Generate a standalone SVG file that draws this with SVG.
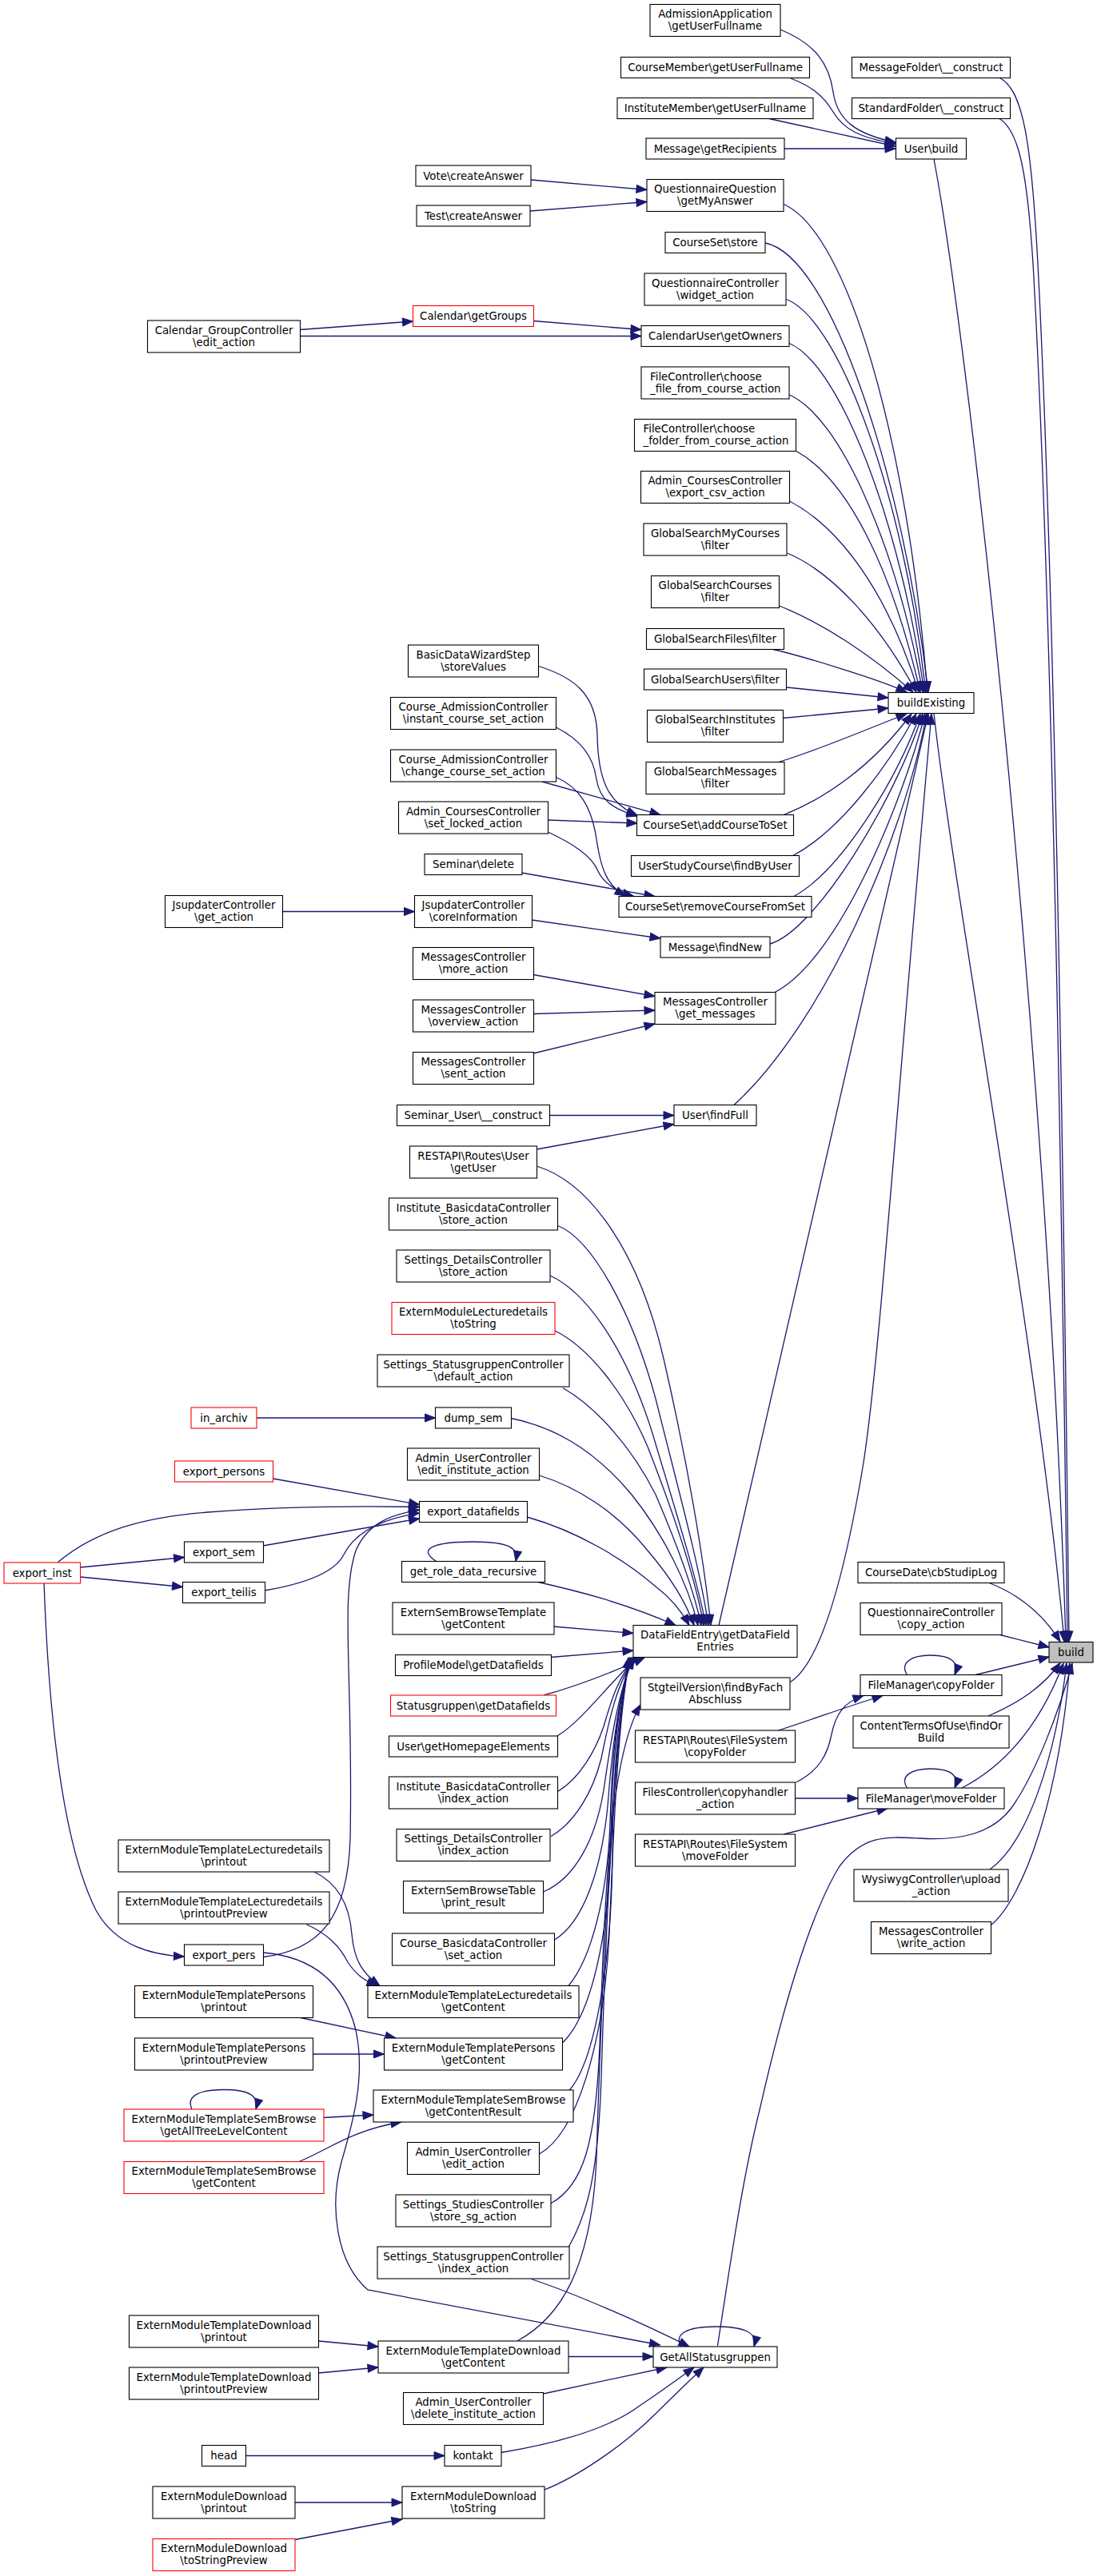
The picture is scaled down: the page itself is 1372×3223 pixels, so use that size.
<svg xmlns="http://www.w3.org/2000/svg" width="1372" height="3223" viewBox="0 0 1372 3223">
<style>
rect{fill:#fff;stroke:#000;stroke-width:1.1}
.r rect{stroke:#f00}
.root rect{fill:#bfbfbf}
text{font-family:"DejaVu Sans","Liberation Sans",sans-serif;font-size:13.33px;fill:#000;text-anchor:middle}
text.l{text-anchor:start}
#edges path{fill:none;stroke:#191970;stroke-width:1.3;marker-end:url(#a)}
</style>
<defs>
<marker id="a" markerWidth="13" markerHeight="10" refX="13" refY="5" orient="auto" markerUnits="userSpaceOnUse" overflow="visible"><path d="M0,0 L13,5 L0,10 z" fill="#191970" stroke="#191970" stroke-width="1"/></marker>
</defs>
<rect x="0" y="0" width="1372" height="3223" style="fill:#fff;stroke:none"/>
<g id="edges">
<path d="M976,37 C1020,55 1037,80 1042,115 C1047,150 1070,168 1120,178"/>
<path d="M989,98 C1015,108 1030,120 1042,140 C1055,162 1075,172 1120,180"/>
<path d="M962,148.5 L1120,183"/>
<path d="M981,186 L1120,186"/>
<path d="M1168,199 C1210,420 1310,1300 1333,2054"/>
<path d="M1249,97 C1280,110 1290,180 1298,330 C1310,560 1325,1000 1337,2054"/>
<path d="M1249,148 C1275,162 1285,220 1292,330 C1305,560 1322,1000 1335,2054"/>
<path d="M1168,892 C1190,1100 1300,1700 1331,2054"/>
<path d="M1236,1980 C1275,1995 1305,2020 1326,2054"/>
<path d="M1251,2045.5 L1312,2061"/>
<path d="M1220,2095.5 L1312,2073"/>
<path d="M1236,2147 C1275,2130 1305,2110 1326,2080.5"/>
<path d="M1203,2237 C1255,2210 1300,2160 1330,2081"/>
<path d="M1238,2339 C1285,2305 1320,2200 1334,2081"/>
<path d="M1239.5,2408.5 C1280,2375 1325,2250 1338,2081"/>
<path d="M897.5,2935 C915,2820 930,2720 950,2640 C975,2530 1010,2400 1050,2335 C1080,2295 1110,2298 1150,2300 C1200,2303 1240,2295 1265,2262 C1295,2220 1325,2140 1341,2081"/>
<path d="M980,255.5 C1060,290 1135,550 1160,866"/>
<path d="M957,304 C1040,320 1130,600 1161,866"/>
<path d="M983.5,374.5 C1050,400 1130,620 1158,866"/>
<path d="M986,429 C1050,455 1125,650 1156,866"/>
<path d="M986,493.5 C1050,520 1120,680 1154,866"/>
<path d="M996,564.5 C1060,600 1115,710 1151,866"/>
<path d="M987.5,627 C1050,660 1110,740 1149,866"/>
<path d="M984.5,692 C1040,715 1100,780 1146,866"/>
<path d="M974.5,758 C1030,780 1090,820 1142,866"/>
<path d="M967,812.5 C1000,820 1100,850 1134,866"/>
<path d="M984,860 L1111,873"/>
<path d="M979,898.5 L1111,886"/>
<path d="M973.5,953.5 C1020,940 1090,910 1134,893"/>
<path d="M980,1019.5 C1030,1000 1090,960 1140,893"/>
<path d="M991,1071 C1050,1040 1110,960 1146,893"/>
<path d="M993,1121.5 C1050,1090 1120,980 1151,893"/>
<path d="M963,1181 C1020,1165 1120,1000 1154,893"/>
<path d="M969,1241.5 C1050,1200 1130,1000 1157,893"/>
<path d="M918,1382.5 C1030,1280 1130,1050 1159,893"/>
<path d="M899,2033.5 L1161,893"/>
<path d="M987.5,2105 C1030,2080 1060,1950 1080,1830 C1100,1700 1120,1400 1165,893"/>
<path d="M664,225 L809,237.5"/>
<path d="M663,264 L809,252.5"/>
<path d="M375,412.5 L516.5,402"/>
<path d="M667,401.5 L802,412.5"/>
<path d="M375,420.5 L802,420.5"/>
<path d="M673.5,833.5 C720,848 746,870 747,920 C748,975 760,1005 797,1020"/>
<path d="M695.5,910 C725,925 742,945 746,975 C750,1000 765,1012 797,1021"/>
<path d="M678,978 L826,1019.5"/>
<path d="M685.5,1026 L797,1030"/>
<path d="M695.5,972.5 C725,985 740,1010 746,1050 C752,1090 760,1108 782,1121"/>
<path d="M684.5,1040.5 C715,1055 740,1070 748,1090 C755,1105 770,1115 792,1121"/>
<path d="M652.5,1092 L819,1121.5"/>
<path d="M353,1140.5 L518.5,1140.5"/>
<path d="M665,1151 L826,1174"/>
<path d="M667,1219.5 L819,1246.5"/>
<path d="M667,1268.5 L819,1264"/>
<path d="M667,1318 L819,1281"/>
<path d="M687,1395.5 L843,1395.5"/>
<path d="M671,1438 L843,1406.5"/>
<path d="M671,1459 C740,1480 800,1570 830,1700 C860,1830 880,1950 889,2033.5"/>
<path d="M697.5,1533.5 C740,1550 790,1640 820,1750 C850,1870 875,1960 886,2033.5"/>
<path d="M688,1596 C730,1615 780,1680 815,1790 C845,1890 870,1970 883,2033.5"/>
<path d="M694,1665 C735,1685 780,1740 810,1810 C845,1900 870,1975 880,2033.5"/>
<path d="M704,1736.5 C745,1760 790,1810 820,1870 C850,1940 868,1990 877,2033.5"/>
<path d="M639,1774.5 C690,1785 740,1810 790,1870 C830,1920 860,1980 873,2033.5"/>
<path d="M674.5,1846 C720,1860 770,1890 810,1940 C840,1975 858,2005 868,2033.5"/>
<path d="M659,1898 C720,1915 780,1950 820,1985 C840,2000 852,2015 862,2033.5"/>
<path d="M671,1979 C720,1990 780,2005 845,2033.5"/>
<path d="M692,2035 L792,2043.5"/>
<path d="M688.5,2073.5 L792,2065"/>
<path d="M680,2121 C720,2110 760,2095 806,2074"/>
<path d="M697,2172 C725,2155 750,2120 796,2074"/>
<path d="M697.5,2241.5 C725,2225 745,2190 755,2160 C765,2125 775,2095 795,2074"/>
<path d="M689,2297.5 C720,2280 742,2240 752,2200 C762,2150 772,2105 794,2074"/>
<path d="M679.5,2367 C720,2350 745,2300 755,2240 C765,2170 775,2110 793,2074"/>
<path d="M693,2427.5 C730,2405 752,2340 760,2260 C766,2180 775,2110 792,2074"/>
<path d="M711,2484.5 C740,2450 760,2370 763,2280 C766,2180 775,2110 791,2074"/>
<path d="M704,2555.5 C740,2520 762,2420 764,2300 C766,2190 775,2115 790,2074"/>
<path d="M711,2616.5 C745,2580 765,2450 766,2320 C767,2200 776,2120 789,2074"/>
<path d="M674.5,2695 C720,2670 755,2560 762,2420 C768,2270 774,2140 788,2074"/>
<path d="M711,2811.5 C735,2770 748,2720 752,2600 C758,2400 768,2180 787,2074"/>
<path d="M647,2929 C700,2900 740,2840 746,2700 C752,2500 765,2200 786,2074"/>
<path d="M688.5,2757 C730,2735 745,2680 750,2560 C756,2380 762,2200 801,2133"/>
<path d="M341.5,1850 L524.5,1882.5"/>
<path d="M72.5,1954.5 C120,1915 180,1898 260,1892 C350,1885 450,1884 524.5,1885.5"/>
<path d="M329,1934 L524.5,1900"/>
<path d="M331,1990 C390,1980 420,1965 430,1945 C445,1915 480,1900 524.5,1893"/>
<path d="M329,2448.5 C400,2440 435,2400 438,2300 C442,2100 425,2000 445,1940 C460,1905 490,1895 524.5,1889"/>
<path d="M100.5,1961 L230.5,1948.5"/>
<path d="M100.5,1973 L228.5,1985.5"/>
<path d="M55,1980 C60,2120 75,2300 120,2390 C145,2435 190,2446 230.5,2448"/>
<path d="M320.5,1774 L544.5,1774"/>
<path d="M545.5,1953.5 C520,1937 545,1929 592,1929 C640,1929 648,1938 645,1953.5"/>
<path d="M393,2342 C420,2355 437,2380 440,2420 C443,2455 455,2470 475,2484.5"/>
<path d="M383,2407.5 C410,2420 425,2435 435,2455 C445,2470 455,2478 472,2484.5"/>
<path d="M376,2524.5 L495,2550"/>
<path d="M391.5,2570 L480.5,2570"/>
<path d="M404.5,2649.5 L467,2646"/>
<path d="M374,2704.5 C410,2690 440,2665 502,2655"/>
<path d="M240,2639 C232,2622 250,2614.5 280,2614.5 C310,2614.5 325,2622 320,2639"/>
<path d="M329,2443 C390,2448 430,2480 445,2540 C458,2600 440,2660 427,2705 C412,2760 420,2830 460,2865 L825.5,2934"/>
<path d="M664.5,2851.5 C720,2870 800,2905 862,2936"/>
<path d="M711,2948.5 L817,2948.5"/>
<path d="M679.5,2995 L834,2962"/>
<path d="M627,3068.5 C690,3058 760,3040 800,3010 C830,2990 850,2975 868,2962"/>
<path d="M681,3115 C720,3100 780,3060 820,3020 C850,2990 866,2975 880,2962"/>
<path d="M852,2936 C842,2920 860,2911 895,2911 C930,2911 948,2918 943,2936"/>
<path d="M307,3072.5 L556,3072.5"/>
<path d="M398.5,2929 L473,2936"/>
<path d="M398.5,2969 L473,2962"/>
<path d="M369,3131 L503,3131"/>
<path d="M369,3177.5 L503,3152"/>
<path d="M1134.5,2095.5 C1125,2080 1140,2071 1164,2071 C1190,2071 1200,2080 1194,2095.5"/>
<path d="M973.5,2165 C1020,2150 1060,2135 1104,2121.5"/>
<path d="M995.5,2230 C1025,2215 1035,2195 1040,2170 C1045,2145 1055,2130 1080,2121.5"/>
<path d="M994.5,2250 L1073,2250"/>
<path d="M980,2295 L1110,2262.5"/>
<path d="M1134.5,2237 C1125,2222 1140,2213 1164,2213 C1190,2213 1200,2222 1194,2237"/>
</g>
<g id="n_build" class="root"><rect x="1312" y="2054.5" width="55" height="25.5"/><text x="1339.5" y="2071.5">build</text></g>
<g id="n_userbuild"><rect x="1120.5" y="173" width="88" height="26"/><text x="1164.5" y="190.5">User\build</text></g>
<g id="n_msgfolder"><rect x="1065.5" y="71.5" width="198" height="26"/><text x="1164.5" y="89">MessageFolder\__construct</text></g>
<g id="n_stdfolder"><rect x="1065.5" y="122.5" width="198" height="26"/><text x="1164.5" y="140">StandardFolder\__construct</text></g>
<g id="n_buildexisting"><rect x="1111" y="866.5" width="107" height="26"/><text x="1164.5" y="884">buildExisting</text></g>
<g id="n_cbstudiplog"><rect x="1073" y="1954.5" width="183" height="26"/><text x="1164.5" y="1972">CourseDate\cbStudipLog</text></g>
<g id="n_copyaction"><rect x="1076" y="2005.5" width="177" height="40"/><text x="1164.5" y="2022">QuestionnaireController<tspan x="1164.5" dy="15">\copy_action</tspan></text></g>
<g id="n_copyfolder"><rect x="1076" y="2095.5" width="177" height="26"/><text x="1164.5" y="2113">FileManager\copyFolder</text></g>
<g id="n_findorbuild"><rect x="1067" y="2147" width="195" height="40"/><text x="1164.5" y="2163.5">ContentTermsOfUse\findOr<tspan x="1164.5" dy="15">Build</tspan></text></g>
<g id="n_movefolder"><rect x="1073" y="2237" width="183" height="26"/><text x="1164.5" y="2254.5">FileManager\moveFolder</text></g>
<g id="n_upload"><rect x="1068" y="2339" width="193" height="40"/><text x="1164.5" y="2355.5">WysiwygController\upload<tspan x="1164.5" dy="15">_action</tspan></text></g>
<g id="n_write"><rect x="1089.5" y="2404.5" width="150" height="40"/><text x="1164.5" y="2421">MessagesController<tspan x="1164.5" dy="15">\write_action</tspan></text></g>
<g id="n_admission"><rect x="813" y="5.5" width="163" height="40"/><text x="894.5" y="22">AdmissionApplication<tspan x="894.5" dy="15">\getUserFullname</tspan></text></g>
<g id="n_coursemember"><rect x="776.5" y="71.5" width="236" height="26"/><text x="894.5" y="89">CourseMember\getUserFullname</text></g>
<g id="n_institutemember"><rect x="772" y="122.5" width="245" height="26"/><text x="894.5" y="140">InstituteMember\getUserFullname</text></g>
<g id="n_getrecipients"><rect x="808" y="173" width="173" height="26"/><text x="894.5" y="190.5">Message\getRecipients</text></g>
<g id="n_getmyanswer"><rect x="809" y="224.5" width="171" height="40"/><text x="894.5" y="241">QuestionnaireQuestion<tspan x="894.5" dy="15">\getMyAnswer</tspan></text></g>
<g id="n_coursesetstore"><rect x="832" y="290.5" width="125" height="26"/><text x="894.5" y="308">CourseSet\store</text></g>
<g id="n_widget"><rect x="806" y="342" width="177" height="40"/><text x="894.5" y="358.5">QuestionnaireController<tspan x="894.5" dy="15">\widget_action</tspan></text></g>
<g id="n_getowners"><rect x="802" y="407.5" width="185" height="26"/><text x="894.5" y="425">CalendarUser\getOwners</text></g>
<g id="n_choosefile"><rect x="802" y="459" width="185" height="40"/><text class="l" x="813" y="475.5">FileController\choose<tspan x="813" dy="15">_file_from_course_action</tspan></text></g>
<g id="n_choosefolder"><rect x="793.5" y="524.5" width="202" height="40"/><text class="l" x="804.5" y="541">FileController\choose<tspan x="804.5" dy="15">_folder_from_course_action</tspan></text></g>
<g id="n_exportcsv"><rect x="801.5" y="589.5" width="186" height="40"/><text x="894.5" y="606">Admin_CoursesController<tspan x="894.5" dy="15">\export_csv_action</tspan></text></g>
<g id="n_gsmycourses"><rect x="805" y="655" width="179" height="40"/><text x="894.5" y="671.5">GlobalSearchMyCourses<tspan x="894.5" dy="15">\filter</tspan></text></g>
<g id="n_gscourses"><rect x="814.5" y="720.5" width="160" height="40"/><text x="894.5" y="737">GlobalSearchCourses<tspan x="894.5" dy="15">\filter</tspan></text></g>
<g id="n_gsfiles"><rect x="808.5" y="786.5" width="172" height="26"/><text x="894.5" y="804">GlobalSearchFiles\filter</text></g>
<g id="n_gsusers"><rect x="805.5" y="837" width="178" height="26"/><text x="894.5" y="854.5">GlobalSearchUsers\filter</text></g>
<g id="n_gsinstitutes"><rect x="809.5" y="888.5" width="170" height="40"/><text x="894.5" y="905">GlobalSearchInstitutes<tspan x="894.5" dy="15">\filter</tspan></text></g>
<g id="n_gsmessages"><rect x="808" y="953.5" width="173" height="40"/><text x="894.5" y="970">GlobalSearchMessages<tspan x="894.5" dy="15">\filter</tspan></text></g>
<g id="n_addcourse"><rect x="796.5" y="1019.5" width="196" height="26"/><text x="894.5" y="1037">CourseSet\addCourseToSet</text></g>
<g id="n_findbyuser"><rect x="789.5" y="1070.5" width="210" height="26"/><text x="894.5" y="1088">UserStudyCourse\findByUser</text></g>
<g id="n_removecourse"><rect x="774" y="1121.5" width="241" height="26"/><text x="894.5" y="1139">CourseSet\removeCourseFromSet</text></g>
<g id="n_findnew"><rect x="826" y="1172" width="137" height="26"/><text x="894.5" y="1189.5">Message\findNew</text></g>
<g id="n_getmessages"><rect x="819" y="1241.5" width="151" height="40"/><text x="894.5" y="1258">MessagesController<tspan x="894.5" dy="15">\get_messages</tspan></text></g>
<g id="n_findfull"><rect x="843" y="1382.5" width="103" height="26"/><text x="894.5" y="1400">User\findFull</text></g>
<g id="n_dfe"><rect x="792" y="2033.5" width="205" height="40"/><text x="894.5" y="2050">DataFieldEntry\getDataField<tspan x="894.5" dy="15">Entries</tspan></text></g>
<g id="n_stgteil"><rect x="801" y="2099" width="187" height="40"/><text x="894.5" y="2115.5">StgteilVersion\findByFach<tspan x="894.5" dy="15">Abschluss</tspan></text></g>
<g id="n_restcopy"><rect x="794.5" y="2165" width="200" height="40"/><text x="894.5" y="2181.5">RESTAPI\Routes\FileSystem<tspan x="894.5" dy="15">\copyFolder</tspan></text></g>
<g id="n_copyhandler"><rect x="794.5" y="2230" width="200" height="40"/><text x="894.5" y="2246.5">FilesController\copyhandler<tspan x="894.5" dy="15">_action</tspan></text></g>
<g id="n_restmove"><rect x="794.5" y="2295" width="200" height="40"/><text x="894.5" y="2311.5">RESTAPI\Routes\FileSystem<tspan x="894.5" dy="15">\moveFolder</tspan></text></g>
<g id="n_getallstatus"><rect x="817" y="2936" width="155" height="26"/><text x="894.5" y="2953.5">GetAllStatusgruppen</text></g>
<g id="n_vote"><rect x="520" y="207" width="144" height="26"/><text x="592" y="224.5">Vote\createAnswer</text></g>
<g id="n_test"><rect x="521" y="257" width="142" height="26"/><text x="592" y="274.5">Test\createAnswer</text></g>
<g id="n_getgroups" class="r"><rect x="516.5" y="382.5" width="151" height="26"/><text x="592" y="400">Calendar\getGroups</text></g>
<g id="n_basicwizard"><rect x="510.5" y="807" width="163" height="40"/><text x="592" y="823.5">BasicDataWizardStep<tspan x="592" dy="15">\storeValues</tspan></text></g>
<g id="n_instantset"><rect x="488.5" y="872.5" width="207" height="40"/><text x="592" y="889">Course_AdmissionController<tspan x="592" dy="15">\instant_course_set_action</tspan></text></g>
<g id="n_changeset"><rect x="488.5" y="938" width="207" height="40"/><text x="592" y="954.5">Course_AdmissionController<tspan x="592" dy="15">\change_course_set_action</tspan></text></g>
<g id="n_setlocked"><rect x="498.5" y="1003" width="187" height="40"/><text x="592" y="1019.5">Admin_CoursesController<tspan x="592" dy="15">\set_locked_action</tspan></text></g>
<g id="n_seminardelete"><rect x="531" y="1068.5" width="122" height="26"/><text x="592" y="1086">Seminar\delete</text></g>
<g id="n_coreinfo"><rect x="518.5" y="1120.5" width="147" height="40"/><text x="592" y="1137">JsupdaterController<tspan x="592" dy="15">\coreInformation</tspan></text></g>
<g id="n_moreaction"><rect x="516.5" y="1185.5" width="151" height="40"/><text x="592" y="1202">MessagesController<tspan x="592" dy="15">\more_action</tspan></text></g>
<g id="n_overview"><rect x="516.5" y="1251" width="151" height="40"/><text x="592" y="1267.5">MessagesController<tspan x="592" dy="15">\overview_action</tspan></text></g>
<g id="n_sent"><rect x="516.5" y="1316.5" width="151" height="40"/><text x="592" y="1333">MessagesController<tspan x="592" dy="15">\sent_action</tspan></text></g>
<g id="n_seminaruser"><rect x="496.5" y="1382.5" width="191" height="26"/><text x="592" y="1400">Seminar_User\__construct</text></g>
<g id="n_getuser"><rect x="512.5" y="1434" width="159" height="40"/><text x="592" y="1450.5">RESTAPI\Routes\User<tspan x="592" dy="15">\getUser</tspan></text></g>
<g id="n_inststore"><rect x="486.5" y="1499" width="211" height="40"/><text x="592" y="1515.5">Institute_BasicdataController<tspan x="592" dy="15">\store_action</tspan></text></g>
<g id="n_detailsstore"><rect x="496" y="1564" width="192" height="40"/><text x="592" y="1580.5">Settings_DetailsController<tspan x="592" dy="15">\store_action</tspan></text></g>
<g id="n_ldtostring" class="r"><rect x="490" y="1629.5" width="204" height="40"/><text x="592" y="1646">ExternModuleLecturedetails<tspan x="592" dy="15">\toString</tspan></text></g>
<g id="n_sgdefault"><rect x="472" y="1695" width="240" height="40"/><text x="592" y="1711.5">Settings_StatusgruppenController<tspan x="592" dy="15">\default_action</tspan></text></g>
<g id="n_dumpsem"><rect x="544.5" y="1761" width="95" height="26"/><text x="592" y="1778.5">dump_sem</text></g>
<g id="n_editinst"><rect x="509.5" y="1812" width="165" height="40"/><text x="592" y="1828.5">Admin_UserController<tspan x="592" dy="15">\edit_institute_action</tspan></text></g>
<g id="n_exportdatafields"><rect x="524.5" y="1878.5" width="135" height="26"/><text x="592" y="1896">export_datafields</text></g>
<g id="n_getrole"><rect x="502.5" y="1953.5" width="179" height="26"/><text x="592" y="1971">get_role_data_recursive</text></g>
<g id="n_esbtemplate"><rect x="491" y="2005" width="202" height="40"/><text x="592" y="2021.5">ExternSemBrowseTemplate<tspan x="592" dy="15">\getContent</tspan></text></g>
<g id="n_profilemodel"><rect x="494.5" y="2070.5" width="195" height="26"/><text x="592" y="2088">ProfileModel\getDatafields</text></g>
<g id="n_sggetdatafields" class="r"><rect x="488.5" y="2121" width="207" height="26"/><text x="592" y="2138.5">Statusgruppen\getDatafields</text></g>
<g id="n_homepage"><rect x="486.5" y="2172" width="211" height="26"/><text x="592" y="2189.5">User\getHomepageElements</text></g>
<g id="n_instindex"><rect x="486.5" y="2223" width="211" height="40"/><text x="592" y="2239.5">Institute_BasicdataController<tspan x="592" dy="15">\index_action</tspan></text></g>
<g id="n_detailsindex"><rect x="496" y="2288.5" width="192" height="40"/><text x="592" y="2305">Settings_DetailsController<tspan x="592" dy="15">\index_action</tspan></text></g>
<g id="n_esbtable"><rect x="504.5" y="2353.5" width="175" height="40"/><text x="592" y="2370">ExternSemBrowseTable<tspan x="592" dy="15">\print_result</tspan></text></g>
<g id="n_coursebasic"><rect x="490.5" y="2419" width="203" height="40"/><text x="592" y="2435.5">Course_BasicdataController<tspan x="592" dy="15">\set_action</tspan></text></g>
<g id="n_ldgetcontent"><rect x="460" y="2484.5" width="264" height="40"/><text x="592" y="2501">ExternModuleTemplateLecturedetails<tspan x="592" dy="15">\getContent</tspan></text></g>
<g id="n_persgetcontent"><rect x="480.5" y="2550" width="223" height="40"/><text x="592" y="2566.5">ExternModuleTemplatePersons<tspan x="592" dy="15">\getContent</tspan></text></g>
<g id="n_sbresult"><rect x="467" y="2615" width="250" height="40"/><text x="592" y="2631.5">ExternModuleTemplateSemBrowse<tspan x="592" dy="15">\getContentResult</tspan></text></g>
<g id="n_useredit"><rect x="509.5" y="2680.5" width="165" height="40"/><text x="592" y="2697">Admin_UserController<tspan x="592" dy="15">\edit_action</tspan></text></g>
<g id="n_storesg"><rect x="495" y="2746" width="194" height="40"/><text x="592" y="2762.5">Settings_StudiesController<tspan x="592" dy="15">\store_sg_action</tspan></text></g>
<g id="n_sgindex"><rect x="472" y="2811" width="240" height="40"/><text x="592" y="2827.5">Settings_StatusgruppenController<tspan x="592" dy="15">\index_action</tspan></text></g>
<g id="n_dlgetcontent"><rect x="473" y="2929" width="238" height="40"/><text x="592" y="2945.5">ExternModuleTemplateDownload<tspan x="592" dy="15">\getContent</tspan></text></g>
<g id="n_deleteinst"><rect x="504.5" y="2993.5" width="175" height="40"/><text x="592" y="3010">Admin_UserController<tspan x="592" dy="15">\delete_institute_action</tspan></text></g>
<g id="n_kontakt"><rect x="556" y="3059.5" width="71" height="26"/><text x="591.5" y="3077">kontakt</text></g>
<g id="n_emdtostring"><rect x="503" y="3111" width="178" height="40"/><text x="592" y="3127.5">ExternModuleDownload<tspan x="592" dy="15">\toString</tspan></text></g>
<g id="n_calgroupedit"><rect x="184.5" y="401" width="191" height="40"/><text x="280" y="417.5">Calendar_GroupController<tspan x="280" dy="15">\edit_action</tspan></text></g>
<g id="n_jsget"><rect x="206.5" y="1120.5" width="147" height="40"/><text x="280" y="1137">JsupdaterController<tspan x="280" dy="15">\get_action</tspan></text></g>
<g id="n_inarchiv" class="r"><rect x="239" y="1761" width="82" height="26"/><text x="280" y="1778.5">in_archiv</text></g>
<g id="n_exportpersons" class="r"><rect x="218.5" y="1828" width="123" height="26"/><text x="280" y="1845.5">export_persons</text></g>
<g id="n_exportsem"><rect x="230.5" y="1929" width="99" height="26"/><text x="280" y="1946.5">export_sem</text></g>
<g id="n_exportteilis"><rect x="228.5" y="1979.5" width="103" height="26"/><text x="280" y="1997">export_teilis</text></g>
<g id="n_ldprintout"><rect x="148" y="2302" width="264" height="40"/><text x="280" y="2318.5">ExternModuleTemplateLecturedetails<tspan x="280" dy="15">\printout</tspan></text></g>
<g id="n_ldpreview"><rect x="148" y="2367" width="264" height="40"/><text x="280" y="2383.5">ExternModuleTemplateLecturedetails<tspan x="280" dy="15">\printoutPreview</tspan></text></g>
<g id="n_exportpers"><rect x="230.5" y="2433" width="99" height="26"/><text x="280" y="2450.5">export_pers</text></g>
<g id="n_persprintout"><rect x="168.5" y="2484.5" width="223" height="40"/><text x="280" y="2501">ExternModuleTemplatePersons<tspan x="280" dy="15">\printout</tspan></text></g>
<g id="n_perspreview"><rect x="168.5" y="2550" width="223" height="40"/><text x="280" y="2566.5">ExternModuleTemplatePersons<tspan x="280" dy="15">\printoutPreview</tspan></text></g>
<g id="n_sbtree" class="r"><rect x="155" y="2639" width="250" height="40"/><text x="280" y="2655.5">ExternModuleTemplateSemBrowse<tspan x="280" dy="15">\getAllTreeLevelContent</tspan></text></g>
<g id="n_sbgetcontent" class="r"><rect x="155" y="2704.5" width="250" height="40"/><text x="280" y="2721">ExternModuleTemplateSemBrowse<tspan x="280" dy="15">\getContent</tspan></text></g>
<g id="n_dlprintout"><rect x="161.5" y="2897" width="237" height="40"/><text x="280" y="2913.5">ExternModuleTemplateDownload<tspan x="280" dy="15">\printout</tspan></text></g>
<g id="n_dlpreview"><rect x="161.5" y="2962" width="237" height="40"/><text x="280" y="2978.5">ExternModuleTemplateDownload<tspan x="280" dy="15">\printoutPreview</tspan></text></g>
<g id="n_head"><rect x="252.5" y="3059.5" width="55" height="26"/><text x="280" y="3077">head</text></g>
<g id="n_emdprintout"><rect x="191" y="3111" width="178" height="40"/><text x="280" y="3127.5">ExternModuleDownload<tspan x="280" dy="15">\printout</tspan></text></g>
<g id="n_emdpreview" class="r"><rect x="191" y="3176.5" width="178" height="40"/><text x="280" y="3193">ExternModuleDownload<tspan x="280" dy="15">\toStringPreview</tspan></text></g>
<g id="n_exportinst" class="r"><rect x="5" y="1955" width="95.5" height="26"/><text x="52.75" y="1972.5">export_inst</text></g>
</svg>
